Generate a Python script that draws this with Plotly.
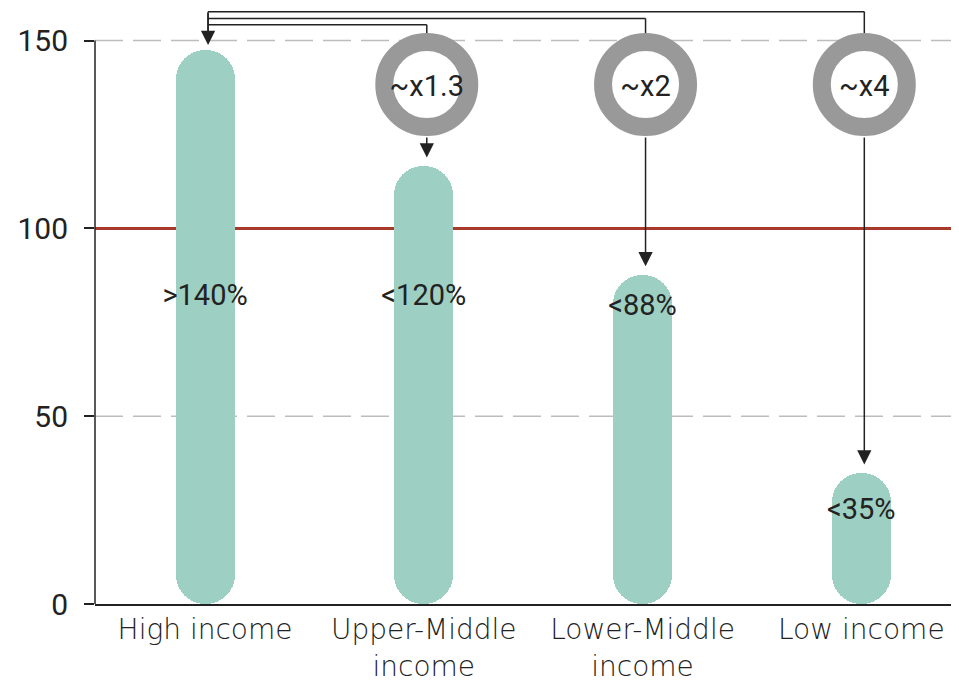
import plotly.graph_objects as go

# ---------------- data ----------------
categories = ["High income", "Upper-Middle<br>income", "Lower-Middle<br>income", "Low income"]
values = [147.5, 116.5, 87.5, 35.0]
value_labels = [">140%", "<120%", "<88%", "<35%"]
label_y = [81.4, 81.4, 79.0, 24.6]
ratio_labels = ["~x1.3", "~x2", "~x4"]
y_ticks = [0, 50, 100, 150]
grid_levels = [50, 150]
reference_level = 100

# ---------------- geometry ----------------
W, H = 959, 684
ML, MR, MT, MB = 95, 8, 3, 80
x_range = [-0.503, 3.41]
y_range = [0, 160]
px_x = (W - ML - MR) / (x_range[1] - x_range[0])
px_y = (H - MT - MB) / (y_range[1] - y_range[0])

BAR_PX = 59
bar_w = BAR_PX / px_x
xs = list(range(len(categories)))
off = 3 / px_x  # connectors sit slightly right of bar centers

TEAL = "#9ecfc3"
RED = "#a8392b"
INK = "#222222"
RING = "#999999"
FONT = "Roboto"

ring_y = 138.3
ring_outer_px = 103
ring_line = 18
ring_bottom = ring_y - (ring_outer_px / 2) / px_y
levels = [None, 154.2, 155.9, 157.7]
top_level = max(l for l in levels if l is not None)
standoffs = [5, 9, 9, 8]

fig = go.Figure()

# pill bars (both ends rounded)
fig.add_trace(go.Bar(
    x=xs, y=values, base=[0] * len(values),
    width=bar_w, marker=dict(color=TEAL, line=dict(width=0), cornerradius="50%"),
    hoverinfo="skip", showlegend=False))

# value labels
fig.add_trace(go.Scatter(
    x=xs, y=label_y, mode="text", text=value_labels,
    textfont=dict(family=FONT, size=29, color=INK),
    hoverinfo="skip", showlegend=False))

# ratio rings
ring_x = [i + off for i in xs[1:]]
fig.add_trace(go.Scatter(
    x=ring_x, y=[ring_y] * len(ratio_labels), mode="markers",
    marker=dict(size=ring_outer_px - ring_line, color="white",
                line=dict(width=ring_line, color=RING)),
    hoverinfo="skip", showlegend=False, cliponaxis=False))
fig.add_trace(go.Scatter(
    x=ring_x, y=[ring_y - 4 / px_y] * len(ratio_labels), mode="text",
    text=ratio_labels, textposition="middle center",
    textfont=dict(family=FONT, size=29, color=INK),
    hoverinfo="skip", showlegend=False, cliponaxis=False))

shapes = []
for g in grid_levels:
    shapes.append(dict(type="line", xref="paper", yref="y", x0=0, x1=1, y0=g, y1=g,
                       line=dict(color="#bdbdbd", width=1.5, dash="28px,10px"), layer="below"))
shapes.append(dict(type="line", xref="paper", yref="y", x0=0, x1=1,
                   y0=reference_level, y1=reference_level,
                   line=dict(color=RED, width=3), layer="below"))
# y axis line (only up to 150)
shapes.append(dict(type="line", xref="paper", yref="y", x0=0, x1=0,
                   y0=0, y1=max(y_ticks), line=dict(color=INK, width=1.5), layer="above"))
# connectors
shapes.append(dict(type="line", xref="x", yref="y", x0=xs[0] + off, x1=xs[0] + off,
                   y0=top_level, y1=values[0] + 4, line=dict(color=INK, width=1.5), layer="below"))
for i in xs[1:]:
    shapes.append(dict(type="line", xref="x", yref="y", x0=xs[0] + off, x1=i + off,
                       y0=levels[i], y1=levels[i], line=dict(color=INK, width=1.5), layer="below"))
    shapes.append(dict(type="line", xref="x", yref="y", x0=i + off, x1=i + off,
                       y0=levels[i], y1=ring_y, line=dict(color=INK, width=1.5), layer="below"))

annotations = []
annotations.append(dict(x=xs[0] + off, y=values[0], ax=xs[0] + off, ay=top_level,
                        xref="x", yref="y", axref="x", ayref="y", text="",
                        showarrow=True, arrowhead=2, arrowsize=1.9, arrowwidth=1.5,
                        arrowcolor=INK, standoff=standoffs[0]))
for i in xs[1:]:
    annotations.append(dict(x=i + off, y=values[i], ax=i + off, ay=ring_bottom,
                            xref="x", yref="y", axref="x", ayref="y", text="",
                            showarrow=True, arrowhead=2, arrowsize=1.9, arrowwidth=1.5,
                            arrowcolor=INK, standoff=standoffs[i]))

fig.update_layout(
    width=W, height=H,
    margin=dict(l=ML, r=MR, t=MT, b=MB, autoexpand=False),
    paper_bgcolor="white", plot_bgcolor="white",
    shapes=shapes, annotations=annotations,
    showlegend=False, bargap=0,
    xaxis=dict(range=x_range, tickvals=xs, ticktext=categories, showgrid=False,
               zeroline=False, showline=True, linecolor=INK, linewidth=1.5, ticks="",
               ticklabelstandoff=0,
               tickfont=dict(family="DejaVu Sans", size=28, color=INK, weight=200)),
    yaxis=dict(range=y_range, tickvals=y_ticks, showgrid=False, zeroline=False, showline=False,
               ticks="outside", ticklen=10, tickwidth=1.5, tickcolor=INK,
               ticklabelstandoff=10,
               tickfont=dict(family=FONT, size=30, color=INK)),
)

fig.write_html("out.html", config={"displayModeBar": False},
               post_script="document.body.style.margin='0';document.body.style.overflow='hidden';")
